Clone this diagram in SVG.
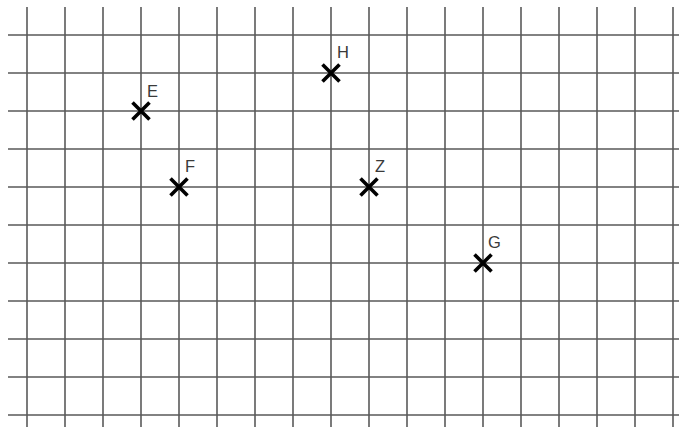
<svg xmlns="http://www.w3.org/2000/svg" width="679" height="427" viewBox="0 0 679 427">
<style>
.g{stroke:#5a5a5a;stroke-width:1.6;fill:none}
.x{stroke:#000;stroke-width:3.6;stroke-linecap:butt}
.l{font-family:"Liberation Sans",Arial,sans-serif;font-size:16.5px;fill:#3a3a3a}
</style>
<defs>
<g id="cross"><path class="x" d="M-8.5,-8.5L8.5,8.5M-8.5,8.5L8.5,-8.5"/></g>
</defs>
<rect width="679" height="427" fill="#fff"/>
<g id="grid">
<path class="g" d="M27,7V427M65,7V427M103,7V427M141,7V427M179,7V427M217,7V427M255,7V427M293,7V427M331,7V427M369,7V427M407,7V427M445,7V427M483,7V427M521,7V427M559,7V427M597,7V427M635,7V427M673,7V427"/>
<path class="g" d="M8,35H679M8,73H679M8,111H679M8,149H679M8,187H679M8,225H679M8,263H679M8,301H679M8,339H679M8,377H679M8,415H679"/>
</g>
<g id="connectors"></g>
<g id="E"><use href="#cross" x="141" y="111"/><text class="l" x="147" y="97">E</text></g>
<g id="H"><use href="#cross" x="331" y="73"/><text class="l" x="337" y="58">H</text></g>
<g id="F"><use href="#cross" x="179" y="187"/><text class="l" x="185" y="172">F</text></g>
<g id="Z"><use href="#cross" x="369" y="187"/><text class="l" x="375" y="172">Z</text></g>
<g id="G"><use href="#cross" x="483" y="263"/><text class="l" x="488" y="248">G</text></g>
</svg>
